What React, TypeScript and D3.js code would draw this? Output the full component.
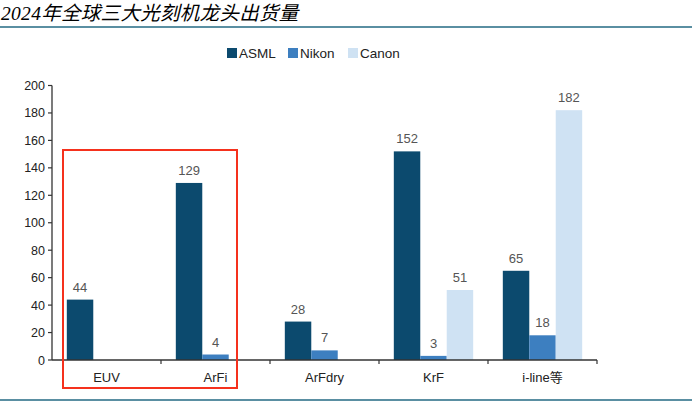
import React from 'react';
import * as d3 from 'd3';

const categories = ['EUV', 'ArFi', 'ArFdry', 'KrF', 'i-line等'];
const seriesNames = ['ASML', 'Nikon', 'Canon'];
const asml = [44, 129, 28, 152, 65];
const nikon = [null, 4, 7, 3, 18];
const canon = [null, null, null, 51, 182];
const yTicks = [0, 20, 40, 60, 80, 100, 120, 140, 160, 180, 200];
const highlighted = ['EUV', 'ArFi'];

const colors = ['#0c4a6e', '#3d7fc0', '#cfe2f3'];
const font = '"Liberation Sans", Arial, "Noto Sans CJK SC", sans-serif';

export default function App() {
  const W = 692;
  const H = 404;
  const left = 52;
  const right = 597;
  const bottom = 360;
  const top = 85.5;

  const x = d3.scaleBand<string>().domain(categories).range([left, right]);
  const xs = d3.scaleBand<string>().domain(seriesNames).range([0, x.bandwidth()])
    .paddingInner(0).paddingOuter(0.56);
  const y = d3.scaleLinear().domain([0, 200]).range([bottom, top]);

  const allSeries = [asml, nikon, canon];

  // 红框：覆盖 EUV 和 ArFi
  const boxX0 = (x(highlighted[0]) || 0) + 11;
  const boxX1 = (x(highlighted[1]) || 0) + x.bandwidth() - 33;

  return (
    <div style={{ position: 'fixed', left: 0, top: 0, width: W, height: H, background: '#fff' }}>
      <svg width={W} height={H} style={{ display: 'block' }}>
        {/* 标题 */}
        <text x={1} y={20} fontFamily='"Liberation Serif", "Noto Sans CJK SC", serif' fontStyle="italic"
          fontSize={19.5} letterSpacing={0.3} fill="#000">2024年全球三大光刻机龙头出货量</text>
        <line x1={0} x2={W} y1={27} y2={27} stroke="#5a8fa2" strokeWidth={2} />
        <line x1={0} x2={W} y1={400} y2={400} stroke="#5a8fa2" strokeWidth={2} />

        {/* 图例 */}
        {seriesNames.map((s, i) => {
          const lx = [227, 288, 348][i];
          return (
            <g key={s}>
              <rect x={lx} y={48} width={10} height={10} fill={colors[i]} />
              <text x={lx + 12} y={58} fontFamily={font} fontSize={13.5} fill="#222">{s}</text>
            </g>
          );
        })}

        {/* 柱子 */}
        {allSeries.map((vals, si) =>
          vals.map((v, ci) => {
            if (v == null) return null;
            const bx = (x(categories[ci]) || 0) + (xs(seriesNames[si]) || 0);
            const bw = xs.bandwidth();
            return (
              <g key={`${si}-${ci}`}>
                <rect x={bx} y={y(v)} width={bw} height={bottom - y(v)} fill={colors[si]} />
                <text x={bx + bw / 2} y={y(v) - 8} textAnchor="middle" fontFamily={font}
                  fontSize={13} fill="#555">{v}</text>
              </g>
            );
          })
        )}

        {/* Y 轴 */}
        <line x1={left} x2={left} y1={top} y2={bottom} stroke="#333" strokeWidth={1.3} />
        {yTicks.map(t => (
          <g key={t}>
            <line x1={left - 4} x2={left} y1={y(t)} y2={y(t)} stroke="#333" strokeWidth={1.2} />
            <text x={left - 7} y={y(t) + 4.5} textAnchor="end" fontFamily={font} fontSize={12.5} fill="#222">{t}</text>
          </g>
        ))}

        {/* X 轴 */}
        <line x1={left} x2={right} y1={bottom} y2={bottom} stroke="#333" strokeWidth={1.3} />
        {categories.map((c, i) => (
          <g key={c}>
            <line x1={(x(c) || 0) + x.bandwidth()} x2={(x(c) || 0) + x.bandwidth()} y1={bottom} y2={bottom + 4}
              stroke="#333" strokeWidth={1.2} />
            <text x={(x(c) || 0) + x.bandwidth() / 2} y={382} textAnchor="middle" fontFamily={font}
              fontSize={13} fill="#222">{c}</text>
          </g>
        ))}

        {/* 红框 */}
        <rect x={boxX0} y={150} width={boxX1 - boxX0} height={238} fill="none" stroke="#f5311d" strokeWidth={2} />
      </svg>
    </div>
  );
}
